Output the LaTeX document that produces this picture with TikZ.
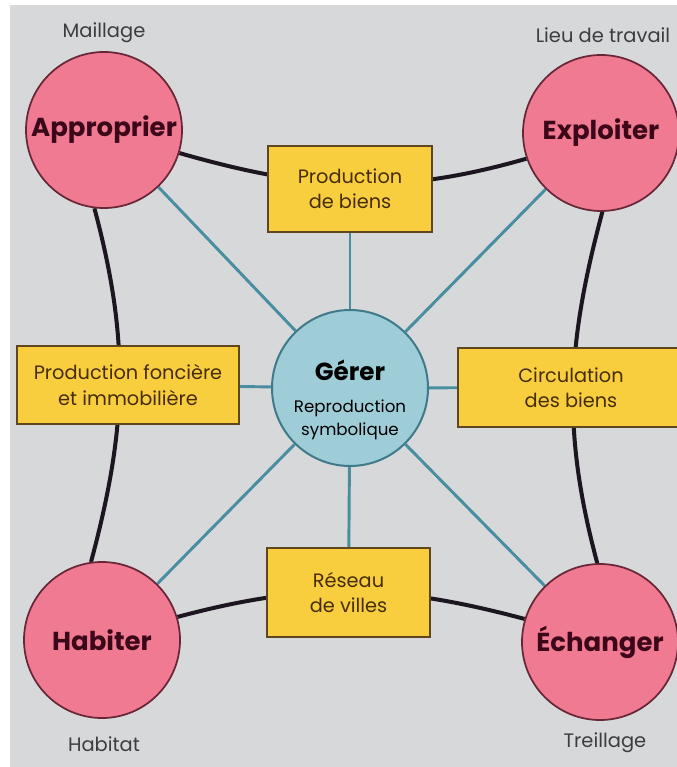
\documentclass[tikz,border=0pt]{standalone}
\usepackage{fontspec}
\setmainfont{Poppins}
\usetikzlibrary{positioning}

\definecolor{paper}{RGB}{215,216,217}
\definecolor{rose}{RGB}{239,122,146}
\definecolor{roseline}{RGB}{105,38,55}
\definecolor{rosetext}{RGB}{60,8,25}
\definecolor{jaune}{RGB}{248,206,62}
\definecolor{jauneline}{RGB}{95,70,30}
\definecolor{jaunetext}{RGB}{70,45,10}
\definecolor{bleu}{RGB}{158,205,215}
\definecolor{bleuline}{RGB}{62,122,138}
\definecolor{rayon}{RGB}{72,142,160}
\definecolor{trait}{RGB}{28,22,32}
\definecolor{legende}{RGB}{60,60,65}

\pgfdeclarelayer{fond}
\pgfdeclarelayer{liens}
\pgfsetlayers{fond,liens,main}

\tikzset{
  pole/.style={circle, fill=rose, draw=roseline, line width=1.3pt,
    minimum size=117pt, inner sep=0pt, text=rosetext,
    font=\fontsize{19.5pt}{22pt}\selectfont\bfseries},
  centre/.style={circle, fill=bleu, draw=bleuline, line width=1.5pt,
    minimum size=117pt, inner sep=0pt, text=black},
  boite/.style={rectangle, fill=jaune, draw=jauneline, line width=1.3pt,
    inner sep=0pt, align=center, text=jaunetext,
    font=\fontsize{14.5pt}{19pt}\selectfont},
  legende/.style={text=legende, font=\fontsize{14.6pt}{16pt}\selectfont},
  cadre/.style={draw=trait, line width=3pt},
  rayon/.style={draw=rayon, line width=2.2pt},
}

\begin{document}
\begin{tikzpicture}[x=0.75pt, y=-0.75pt]
\useasboundingbox (0,0) rectangle (677,767);
\begin{pgfonlayer}{fond}
  \fill[white] (0,0) rectangle (677,767);
  \fill[paper] (10,5) rectangle (677,767);
\end{pgfonlayer}

% the four poles
\node[pole] (A)  at (104,130) {Approprier};
\node[pole] (E)  at (601,133) {Exploiter};
\node[pole] (H)  at (102,640) {Habiter};
\node[pole] (X)  at (600,642) {Échanger};

% centre, its title set a little below the middle
\node[centre, font=\fontsize{12.5pt}{17.5pt}\selectfont] (G) at (350,388)
  {\raisebox{-13pt}[0pt][0pt]{\begin{tabular}{@{}c@{}}
  {\fontsize{18.5pt}{20pt}\selectfont\bfseries Gérer}\\[6pt]
  Reproduction\\
  symbolique\end{tabular}}};

% boxes between poles
\node[boite, minimum width=123pt, minimum height=64.5pt] (PB) at (350,189)
  {Production\\de biens};
\node[boite, minimum width=166.5pt, minimum height=58.5pt] (PF) at (128,385)
  {Production foncière\\et immobilière};
\node[boite, minimum width=169.5pt, minimum height=59.3pt] (CB) at (571,387.5)
  {Circulation\\des biens};
\node[boite, minimum width=122pt, minimum height=66.8pt] (RV) at (348.5,592.5)
  {Réseau\\de villes};

% captions
\node[legende] (lA) at (104,33) {Maillage};
\node[legende] (lE) at (603,35) {Lieu de travail};
\node[legende] (lH) at (104,744) {Habitat};
\node[legende] (lX) at (605,743) {Treillage};

\begin{pgfonlayer}{liens}
  % outer frame
  \draw[cadre] (A.-17) to[out=-16, in=196] (E.-161);
  \draw[cadre] (H.17) to[out=15, in=165] (X.163);
  \draw[cadre] (A.-97) to[out=-75, in=75] (H.98);
  \draw[cadre] (E.-89) to[out=-105, in=105] (X.92);
  % spokes from the centre
  \draw[rayon] (G) -- (A);
  \draw[rayon] (G) -- (E);
  \draw[rayon] (G) -- (H);
  \draw[rayon] (G) -- (X);
  \draw[rayon] (G) -- (PB);
  \draw[rayon] (G) -- (PF);
  \draw[rayon] (G) -- (CB);
  \draw[rayon] (G) -- (RV);
\end{pgfonlayer}
\end{tikzpicture}
\end{document}
